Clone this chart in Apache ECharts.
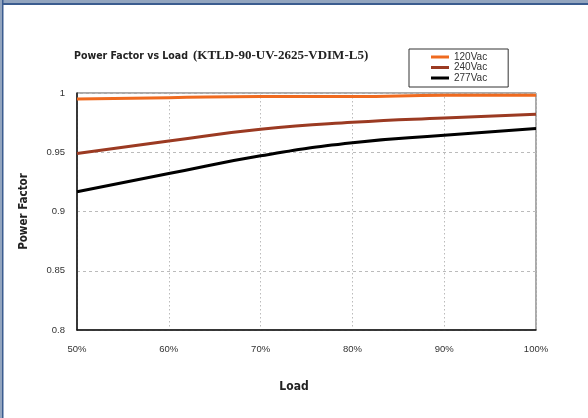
<!DOCTYPE html>
<html>
<head>
<meta charset="utf-8">
<script src="https://cdn.jsdelivr.net/npm/echarts@6/dist/echarts.min.js"></script>
<style>html,body{margin:0;padding:0;background:#fff}#c{width:588px;height:418px}</style>
</head>
<body>
<div id="c"></div>
<script>
var loads = [50, 60, 70, 80, 90, 100];
var pf120 = [0.995, 0.996, 0.997, 0.997, 0.998, 0.998];
var pf240 = [0.949, 0.9595, 0.9694, 0.9753, 0.979, 0.982];
var pf277 = [0.9167, 0.932, 0.947, 0.958, 0.9643, 0.970];
var seriesNames = ['120Vac', '240Vac', '277Vac'];
var xTicks = [50, 60, 70, 80, 90, 100];
var yTicks = [0.8, 0.85, 0.9, 0.95, 1];

function pairs(vals) { return loads.map(function (x, i) { return [x, vals[i]]; }); }

var condFont = '"DejaVu Sans Condensed", "DejaVu Sans", sans-serif';

var chart = echarts.init(document.getElementById('c'));
chart.setOption({
  animation: false,
  backgroundColor: '#fff',
  graphic: [
    { type: 'rect', shape: { x: 0, y: 0, width: 588, height: 3 }, style: { fill: '#93a5bf' }, z: 100 },
    { type: 'rect', shape: { x: 0, y: 3, width: 588, height: 2 }, style: { fill: '#3b5c8f' }, z: 100 },
    { type: 'rect', shape: { x: 0, y: 0, width: 2, height: 418 }, style: { fill: '#93a5bf' }, z: 100 },
    { type: 'rect', shape: { x: 2, y: 0, width: 1.5, height: 418 }, style: { fill: '#3b5c8f' }, z: 100 }
  ],
  title: {
    left: 69, top: 42,
    text: '{a|Power Factor vs Load} {b|(KTLD-90-UV-2625-VDIM-L5)}',
    textStyle: {
      rich: {
        a: { fontFamily: condFont, fontWeight: 'bold', fontSize: 10.5, color: '#222' },
        b: { fontFamily: 'Liberation Serif', fontWeight: 'bold', fontSize: 13, color: '#222' }
      }
    }
  },
  legend: {
    left: 409, top: 49,
    orient: 'vertical',
    icon: 'rect',
    itemWidth: 18, itemHeight: 3,
    itemGap: 0.5,
    itemTextGap: 1,
    padding: [3, 21, 4, 22],
    borderColor: '#333', borderWidth: 1,
    textStyle: { fontFamily: 'Liberation Sans', fontSize: 10, color: '#333', lineHeight: 10 },
    data: seriesNames
  },
  grid: {
    left: 77, top: 93, width: 459, height: 237,
    show: true, borderColor: '#555', borderWidth: 1, backgroundColor: 'transparent'
  },
  xAxis: {
    type: 'value', min: 50, max: 100, interval: 10,
    name: 'Load', nameLocation: 'middle', nameGap: 51,
    nameTextStyle: { fontFamily: condFont, fontWeight: 'bold', fontSize: 12, color: '#222', padding: [0, 25, 0, 0] },
    axisLine: { show: true, lineStyle: { color: '#111', width: 1.5 } },
    axisTick: { show: false },
    axisLabel: { formatter: '{value}%', fontFamily: 'Liberation Sans', fontSize: 9.5, color: '#333', margin: 14, showMinLabel: true, showMaxLabel: true },
    splitLine: { show: true, lineStyle: { color: '#bbb', type: [1.5, 2.5], width: 1 } }
  },
  yAxis: {
    type: 'value', min: 0.8, max: 1, interval: 0.05,
    name: 'Power Factor', nameLocation: 'middle', nameGap: 47, nameRotate: 90,
    nameTextStyle: { fontFamily: condFont, fontWeight: 'bold', fontSize: 11.5, color: '#222' },
    axisLine: { show: true, lineStyle: { color: '#111', width: 1.5 } },
    axisTick: { show: false },
    axisLabel: { fontFamily: 'Liberation Sans', fontSize: 9.5, color: '#333', margin: 12 },
    splitLine: { show: true, lineStyle: { color: '#bbb', type: [3, 3], width: 1 } }
  },
  series: [
    { name: seriesNames[0], type: 'line', data: pairs(pf120), smooth: true, showSymbol: false, lineStyle: { color: '#ef6a1f', width: 3 }, itemStyle: { color: '#ef6a1f' } },
    { name: seriesNames[1], type: 'line', data: pairs(pf240), smooth: true, showSymbol: false, lineStyle: { color: '#9b3a22', width: 3 }, itemStyle: { color: '#9b3a22' } },
    { name: seriesNames[2], type: 'line', data: pairs(pf277), smooth: true, showSymbol: false, lineStyle: { color: '#000', width: 3 }, itemStyle: { color: '#000' } }
  ]
});
</script>
</body>
</html>
